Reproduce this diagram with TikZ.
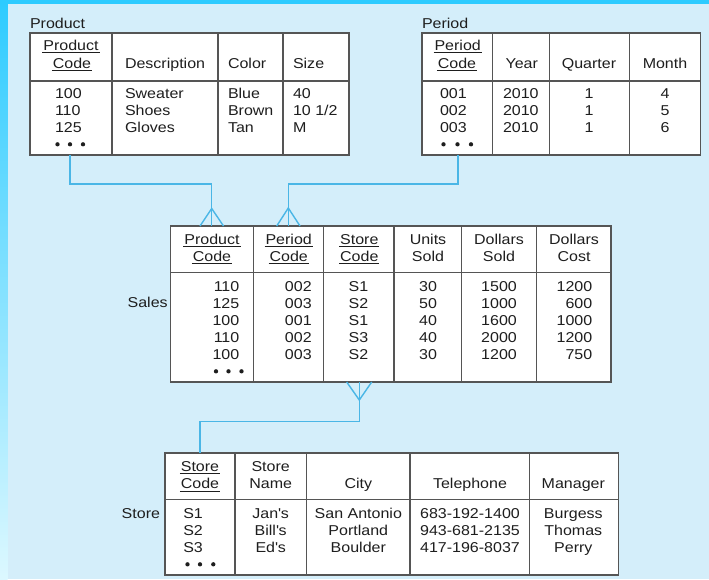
\documentclass[tikz,border=0pt]{standalone}
\usepackage{fontspec}
\setmainfont{Liberation Sans}[FakeStretch=1.12]
\definecolor{ink}{HTML}{1E1E1E}
\definecolor{frame}{HTML}{555555}
\definecolor{linkc}{HTML}{4AB6E6}
\definecolor{bg}{HTML}{D4EEFA}
\definecolor{edge}{HTML}{2DCBFF}
\definecolor{edgelight}{HTML}{DCF8FF}
\newcommand{\apos}{\textquotesingle}
\begin{document}
\begin{tikzpicture}[x=1pt,y=-1pt,
  every node/.style={inner sep=0pt, outer sep=0pt, text=ink, font=\fontsize{14.3}{17}\selectfont},
  tbl/.style={draw=frame, line width=1.3pt, fill=white, anchor=north west},
  rule/.style={draw=frame, line width=1.2pt},
  link/.style={draw=linkc, line width=1.4pt},
  uline/.style={draw=ink, line width=0.9pt},
  dot/.style={fill=ink, circle, minimum size=4.3pt},
]
% page background and coloured edges
\fill[bg] (0,0) rectangle (709,579);
\useasboundingbox (0,0) rectangle (709,579);
\shade[top color=edge, bottom color=edgelight] (0,0) rectangle (7.5,579);
\fill[edge] (0,0) rectangle (709,3.5);

% ---------- Product table ----------
\node[anchor=base west] (prodlbl) at (30,28) {Product};
\node[tbl, minimum width=319pt, minimum height=122pt] (prod) at (30,33) {};
\draw[rule] (30,81) -- (349,81);
\foreach \x in {112,218,283} \draw[rule] (\x,33) -- (\x,155);
\node[anchor=base] (pk1) at (71,50.3) {Product};
\node[anchor=base] (pk2) at (72,68) {Code};
\node[anchor=base west] (ph2) at (125,68) {Description};
\node[anchor=base west] (ph3) at (228,68) {Color};
\node[anchor=base west] (ph4) at (293,68) {Size};
\foreach \y/\a/\b/\c/\d [count=\i] in {98.3/100/Sweater/Blue/40, 115.3/110/Shoes/Brown/{10 1/2}, 132.3/125/Gloves/Tan/M}{
  \node[anchor=base west] (pa\i) at (55,\y) {\a};
  \node[anchor=base west] (pb\i) at (125,\y) {\b};
  \node[anchor=base west] (pc\i) at (228,\y) {\c};
  \node[anchor=base west] (pd\i) at (293,\y) {\d};
}
\foreach \x [count=\i] in {57.5,70,83} \node[dot] (pdot\i) at (\x,144.3) {};

% ---------- Period table ----------
\node[anchor=base west] (perlbl) at (422,28) {Period};
\node[tbl, minimum width=278.5pt, minimum height=122pt] (per) at (422,33) {};
\draw[rule] (422,81) -- (700.5,81);
\foreach \x in {492.7,549.3,629.3} \draw[rule] (\x,33) -- (\x,155);
\node[anchor=base] (qk1) at (457.7,50.3) {Period};
\node[anchor=base] (qk2) at (457,68) {Code};
\node[anchor=base] (qh2) at (521.7,68) {Year};
\node[anchor=base] (qh3) at (589,68) {Quarter};
\node[anchor=base] (qh4) at (665,68) {Month};
\foreach \y/\a/\d [count=\i] in {98.3/001/4, 115.3/002/5, 132.3/003/6}{
  \node[anchor=base west] (qa\i) at (440,\y) {\a};
  \node[anchor=base west] (qb\i) at (503,\y) {2010};
  \node[anchor=base] (qc\i) at (589,\y) {1};
  \node[anchor=base] (qd\i) at (665,\y) {\d};
}
\foreach \x [count=\i] in {443.5,457.5,471} \node[dot] (qdot\i) at (\x,144.3) {};

% ---------- Sales table ----------
\node[anchor=base east] (saleslbl) at (167.7,307.7) {Sales};
\node[tbl, minimum width=440.3pt, minimum height=156pt] (sales) at (170.7,226) {};
\draw[rule] (170.7,272.3) -- (611,272.3);
\foreach \x in {253.3,323.7,394,461.7,536.7} \draw[rule] (\x,226) -- (\x,382);
\foreach \x/\a/\b [count=\i] in {212/Product/Code, 288.7/Period/Code, 359.3/Store/Code}{
  \node[anchor=base] (sk\i a) at (\x,244) {\a};
  \node[anchor=base] (sk\i b) at (\x,261.5) {\b};
  \draw[uline] ([xshift=-1pt,yshift=-2.6pt]sk\i a.base west) -- ([xshift=1pt,yshift=-2.6pt]sk\i a.base east);
  \draw[uline] ([xshift=-1pt,yshift=-2.2pt]sk\i b.base west) -- ([xshift=1pt,yshift=-2.2pt]sk\i b.base east);
}
\foreach \x/\a/\b [count=\i] in {428/Units/Sold, 499/Dollars/Sold, 574/Dollars/Cost}{
  \node[anchor=base] (sh\i a) at (\x,244) {\a};
  \node[anchor=base] (sh\i b) at (\x,261.5) {\b};
}
\foreach \y/\a/\b/\c/\d/\e/\f [count=\i] in {
  291/110/002/S1/30/1500/1200,
  308.1/125/003/S2/50/1000/600,
  325.2/100/001/S1/40/1600/1000,
  342.3/110/002/S3/40/2000/1200,
  359.4/100/003/S2/30/1200/750}{
  \node[anchor=base east] (sa\i) at (239.3,\y) {\a};
  \node[anchor=base east] (sb\i) at (311.7,\y) {\b};
  \node[anchor=base west] (sc\i) at (348.7,\y) {\c};
  \node[anchor=base] (sd\i) at (428,\y) {\d};
  \node[anchor=base] (se\i) at (499,\y) {\e};
  \node[anchor=base east] (sf\i) at (592.3,\y) {\f};
}
\foreach \x [count=\i] in {216,228.5,241.5} \node[dot] (sdot\i) at (\x,371.3) {};

% ---------- Store table ----------
\node[anchor=base east] (storelbl) at (160,518.3) {Store};
\node[tbl, minimum width=453.3pt, minimum height=122pt] (store) at (165,453) {};
\draw[rule] (165,499.6) -- (618.3,499.6);
\foreach \x in {235,306.7,410,529.3} \draw[rule] (\x,453) -- (\x,575);
\node[anchor=base] (tk1) at (200,471) {Store};
\node[anchor=base] (tk2) at (200,488.5) {Code};
\node[anchor=base] (th1a) at (270.7,471) {Store};
\node[anchor=base] (th1b) at (270.7,488.5) {Name};
\node[anchor=base] (th2) at (358.3,488.5) {City};
\node[anchor=base] (th3) at (470,488.5) {Telephone};
\node[anchor=base] (th4) at (573.3,488.5) {Manager};
\foreach \y/\a/\b/\c/\d/\e [count=\i] in {
  518.3/S1/Jan\apos s/San Antonio/683-192-1400/Burgess,
  535/S2/Bill\apos s/Portland/943-681-2135/Thomas,
  552.3/S3/Ed\apos s/Boulder/417-196-8037/Perry}{
  \node[anchor=base west] (ta\i) at (183.3,\y) {\a};
  \node[anchor=base] (tb\i) at (270.7,\y) {\b};
  \node[anchor=base] (tc\i) at (358.3,\y) {\c};
  \node[anchor=base] (td\i) at (470,\y) {\d};
  \node[anchor=base] (te\i) at (573.3,\y) {\e};
}
\foreach \x [count=\i] in {187.5,200,213.3} \node[dot] (tdot\i) at (\x,564.3) {};

% underlined key headers of the small tables
\foreach \n in {pk1,pk2,qk1,qk2,tk1,tk2}
  \draw[uline] ([xshift=-1pt,yshift=-2.6pt]\n.base west) -- ([xshift=1pt,yshift=-2.6pt]\n.base east);

% ---------- relationship lines with crow's feet ----------
\coordinate (prodkey) at (70,155);
\coordinate (salesprod) at (211.7,226);
\coordinate (perkey) at (458,155);
\coordinate (salesper) at (288.3,226);
\coordinate (salesstore) at (359.3,382);
\coordinate (storekey) at (200,453);

\draw[link] (prodkey) -- (70,184) -| (salesprod);
\draw[link] ([xshift=-11.7pt]salesprod) -- ([yshift=17.5pt]salesprod) -- ([xshift=11.8pt]salesprod);

\draw[link] (perkey) -- (458,184) -| (salesper);
\draw[link] ([xshift=-11.6pt]salesper) -- ([yshift=18pt]salesper) -- ([xshift=11.7pt]salesper);

\draw[link] (salesstore) -- (359.3,421.7) -| (storekey);
\draw[link] ([xshift=-12.6pt]salesstore) -- ([yshift=-18pt]salesstore) -- ([xshift=12.4pt]salesstore);
\end{tikzpicture}
\end{document}
